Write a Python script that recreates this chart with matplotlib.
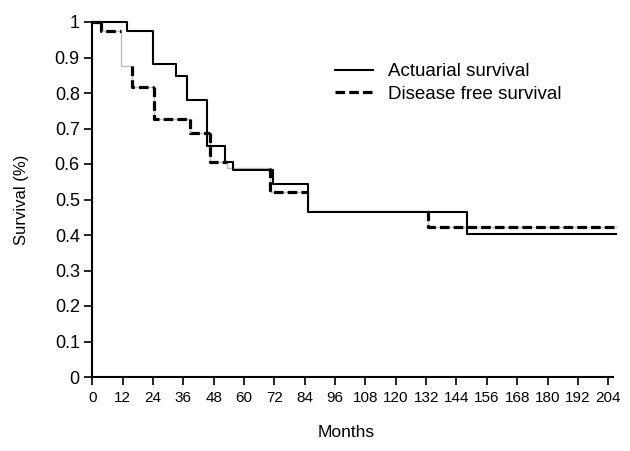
import matplotlib
matplotlib.use("Agg")
import matplotlib.pyplot as plt
from matplotlib.lines import Line2D

plt.rcParams['font.family'] = ['Liberation Sans', 'DejaVu Sans']

# Actuarial survival (step times in months, survival fraction)
os_times = [0, 13.6, 24.1, 33.0, 37.6, 45.5, 52.6, 55.8, 71.6, 85.1, 148.3]
os_vals = [1.0, 0.976, 0.883, 0.847, 0.781, 0.65, 0.605, 0.582, 0.544, 0.465, 0.402]
os_end = 207

# Disease free survival
dfs_times = [0, 3.3, 11.2, 15.6, 24.4, 38.6, 46.5, 53.1, 70.3, 85.2, 132.9]
dfs_vals = [1.0, 0.976, 0.875, 0.817, 0.728, 0.687, 0.607, 0.589, 0.52, 0.469, 0.423]
dfs_end = 207
# intervals where only the faint grey trace of the dashed line is visible
dfs_faint = [False, False, True, False, False, False, False, True, False, True, False]

x_ticks = [0, 12, 24, 36, 48, 60, 72, 84, 96, 108, 120, 132, 144, 156, 168, 180, 192, 204]
y_ticks = [0, 0.1, 0.2, 0.3, 0.4, 0.5, 0.6, 0.7, 0.8, 0.9, 1.0]
y_labels = ['0', '0.1', '0.2', '0.3', '0.4', '0.5', '0.6', '0.7', '0.8', '0.9', '1']

W, H = 630, 451
fig = plt.figure(figsize=(W / 100, H / 100), dpi=100)
x0, x1 = 92.3, 613.3
y0, y1 = 377, 22
ax = fig.add_axes([x0 / W, 1 - y0 / H, (x1 - x0) / W, (y0 - y1) / H])
ax.set_xlim(0, 206)
ax.set_ylim(0, 1)

DASH = (0, (3.0, 1.3))

# faint grey trace of disease free survival
ax.step(dfs_times + [dfs_end], dfs_vals + [dfs_vals[-1]], where='post',
        color='#bdbdbd', lw=1.0, clip_on=False, zorder=2)
# black dashed visible parts
for i in range(len(dfs_times)):
    if dfs_faint[i]:
        continue
    t_start = dfs_times[i]
    t_stop = dfs_times[i + 1] if i + 1 < len(dfs_times) else dfs_end
    prev = dfs_vals[i - 1] if i > 0 else dfs_vals[i]
    ax.plot([t_start, t_start, t_stop], [prev, dfs_vals[i], dfs_vals[i]],
            color='black', lw=2.3, ls=DASH, clip_on=False, zorder=3)

# actuarial survival solid
ax.step(os_times + [os_end], os_vals + [os_vals[-1]], where='post',
        color='black', lw=1.5, clip_on=False, zorder=4)

for s in ['top', 'right']:
    ax.spines[s].set_visible(False)
for s in ['left', 'bottom']:
    ax.spines[s].set_linewidth(1.5)
ax.spines['bottom'].set_bounds(0, 206)

ax.set_xticks(x_ticks)
ax.set_xticklabels([str(t) for t in x_ticks], fontsize=11)
ax.set_yticks(y_ticks)
ax.set_yticklabels(y_labels, fontsize=13)
ax.tick_params(axis='both', direction='out', length=6, width=1.2, color='black')
ax.tick_params(axis='x', pad=4)
ax.tick_params(axis='y', pad=3)

ax.set_xlabel('Months', fontsize=12.5)
ax.xaxis.set_label_coords(0.488, -0.135)
ax.set_ylabel('Survival (%)', fontsize=12)
ax.yaxis.set_label_coords(-0.122, 0.5)

handles = [Line2D([], [], color='black', lw=1.5),
           Line2D([], [], color='black', lw=2.3, ls=DASH)]
fig.legend(handles, ['Actuarial survival', 'Disease free survival'],
           loc='upper left', bbox_to_anchor=(335 / W, 1 - 63 / H),
           frameon=False, fontsize=13.5, handlelength=2.05, handletextpad=0.8,
           labelspacing=0.3, borderpad=0, borderaxespad=0)

fig.savefig('out.png', dpi=100)
